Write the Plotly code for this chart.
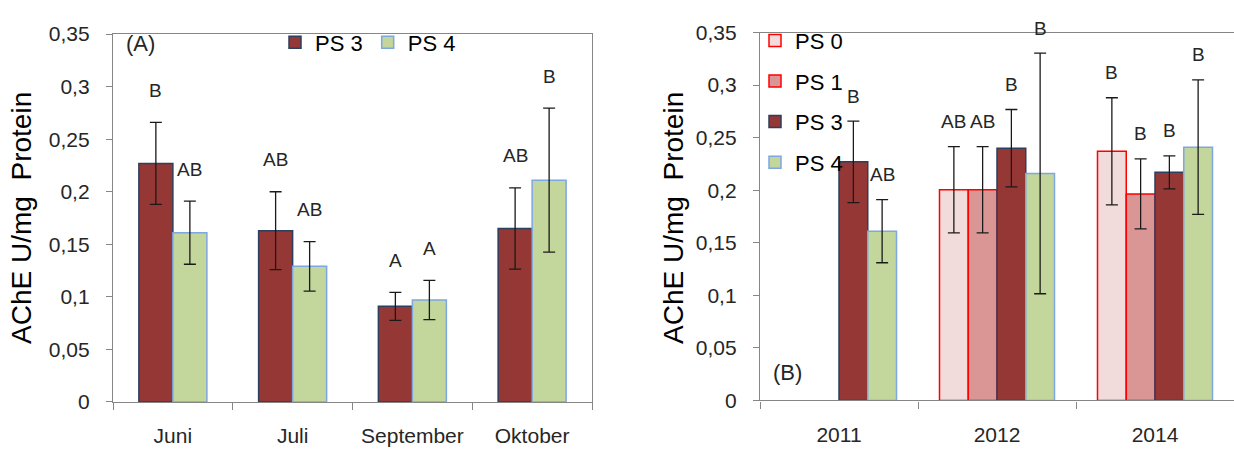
import plotly.graph_objects as go

# ---- data: AChE activity per sampling month (panel A) ----
months = ["Juni", "Juli", "September", "Oktober"]
ps3_month = [0.227, 0.163, 0.091, 0.165]
ps3_month_err = [0.039, 0.037, 0.0133, 0.0387]
ps3_month_sig = ["B", "AB", "A", "AB"]
ps4_month = [0.161, 0.129, 0.097, 0.211]
ps4_month_err = [0.030, 0.0235, 0.0187, 0.0685]
ps4_month_sig = ["AB", "AB", "A", "B"]

# ---- data: AChE activity per year (panel B) ----
years = ["2011", "2012", "2014"]
ps0_year = [None, 0.2005, 0.237]
ps0_year_err = [None, 0.041, 0.051]
ps0_year_sig = [None, "AB", "B"]
ps1_year = [None, 0.2005, 0.1965]
ps1_year_err = [None, 0.041, 0.0333]
ps1_year_sig = [None, "AB", "B"]
ps3_year = [0.227, 0.240, 0.217]
ps3_year_err = [0.0387, 0.0368, 0.0157]
ps3_year_sig = ["B", "B", "B"]
ps4_year = [0.161, 0.216, 0.241]
ps4_year_err = [0.030, 0.1145, 0.064]
ps4_year_sig = ["AB", "B", "B"]

W, H = 1234, 449
FONT = "Liberation Sans, Arial, sans-serif"
AXIS_GREY = "#868686"
TEXT = "#262626"

STYLE = {
    "PS 0": dict(fill="#F2DCDB", line="#FF0000"),
    "PS 1": dict(fill="#D99694", line="#FF0000"),
    "PS 3": dict(fill="#953735", line="#2B3F5E"),
    "PS 4": dict(fill="#C3D69B", line="#7EA6E0"),
}

fig = go.Figure()
annotations = []


def add_group(cats, series, xref, yref, legend, bar_w, label_shift):
    n = len(series)
    for k, (name, vals, errs, sig) in enumerate(series):
        off = (k - n / 2) * bar_w
        st = STYLE[name]
        fig.add_trace(go.Bar(
            x=cats, y=vals, name=name,
            xaxis=xref, yaxis=yref, legend=legend,
            legendgroup=legend + name,
            offset=off, width=bar_w,
            marker=dict(color=st["fill"], line=dict(color=st["line"], width=1.5)),
            error_y=dict(type="data", array=errs, visible=True,
                         color="#1A1A1A", thickness=1.3, width=6),
        ))
        # significance letters above the error bars
        for i, (v, e, s) in enumerate(zip(vals, errs, sig)):
            if v is None or s is None:
                continue
            annotations.append(dict(
                x=i + off + bar_w / 2, y=v + e, xref=xref, yref=yref,
                text=s, showarrow=False, yanchor="middle", yshift=label_shift,
                font=dict(size=19, color=TEXT, family=FONT),
            ))


add_group(months,
          [("PS 3", ps3_month, ps3_month_err, ps3_month_sig),
           ("PS 4", ps4_month, ps4_month_err, ps4_month_sig)],
          "x", "y", "legend", 0.284, 32)
add_group(years,
          [("PS 0", ps0_year, ps0_year_err, ps0_year_sig),
           ("PS 1", ps1_year, ps1_year_err, ps1_year_sig),
           ("PS 3", ps3_year, ps3_year_err, ps3_year_sig),
           ("PS 4", ps4_year, ps4_year_err, ps4_year_sig)],
          "x2", "y2", "legend2", 0.182, 25)

# panel letters and y-axis titles
for txt, px, py in [("(A)", 140, 33), ("(B)", 787, 380)]:
    annotations.append(dict(text=txt, x=px / W, y=1 - py / H, xref="paper", yref="paper",
                            xanchor="center", yanchor="middle", showarrow=False,
                            font=dict(size=22, color=TEXT, family=FONT)))
for px in (22, 674):
    annotations.append(dict(text="AChE U/mg  Protein", x=px / W, y=1 - 217 / H,
                            xref="paper", yref="paper", textangle=-90, showarrow=False,
                            xanchor="center", yanchor="middle",
                            font=dict(size=28, color="#000000", family=FONT)))

xaxis_common = dict(
    type="category", showline=True, linecolor=AXIS_GREY, linewidth=1.3, mirror=True,
    ticks="outside", tickson="boundaries", ticklen=7, tickcolor=AXIS_GREY, tickwidth=1.3,
    showgrid=False, zeroline=False, tickfont=dict(size=21, color=TEXT, family=FONT),
    ticklabelstandoff=15,
)
yaxis_common = dict(
    range=[0, 0.35], dtick=0.05, tick0=0, showline=True, linecolor=AXIS_GREY, linewidth=1.3,
    ticks="outside", ticklen=6, tickcolor=AXIS_GREY, tickwidth=1.3, showgrid=False,
    zeroline=False, tickfont=dict(size=21, color=TEXT, family=FONT), ticklabelstandoff=12,
)

fig.update_layout(
    width=W, height=H, autosize=False,
    margin=dict(l=0, r=0, t=0, b=0),
    paper_bgcolor="white", plot_bgcolor="white",
    separators=",.",
    barmode="overlay",
    font=dict(family=FONT, color=TEXT),
    xaxis=dict(xaxis_common, domain=[113 / W, 592 / W], anchor="y", range=[-0.5, 3.5]),
    yaxis=dict(yaxis_common, domain=[1 - 411 / H, 1 - 23.3 / H], anchor="x", mirror=True),
    xaxis2=dict(xaxis_common, domain=[760 / W, 1.0], anchor="y2", range=[-0.5, 2.5]),
    yaxis2=dict(yaxis_common, domain=[1 - 409.4 / H, 1 - 21.7 / H], anchor="x2"),
    legend=dict(orientation="h", x=275 / W, y=1 - 10 / H, xanchor="left", yanchor="top",
                bgcolor="rgba(0,0,0,0)", font=dict(size=22, color="#000000", family=FONT)),
    legend2=dict(orientation="v", x=755 / W, y=1 - 8 / H, xanchor="left", yanchor="top",
                 bgcolor="rgba(0,0,0,0)", tracegroupgap=9,
                 font=dict(size=22, color="#000000", family=FONT)),
    annotations=annotations,
)

fig.write_html("out.html")
